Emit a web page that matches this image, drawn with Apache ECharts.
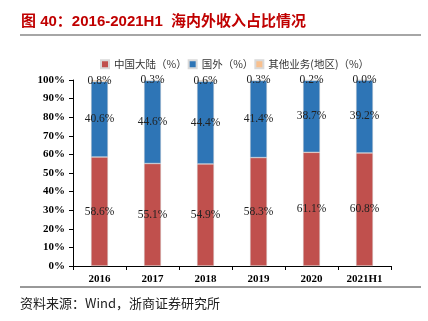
<!DOCTYPE html>
<html><head><meta charset="utf-8">
<script src="https://cdn.jsdelivr.net/npm/echarts@6/dist/echarts.min.js"></script>
<style>html,body{margin:0;padding:0;background:#fff;}#c{width:428px;height:321px;}</style>
</head><body><div id="c"></div>
<script>
const categories = ['2016','2017','2018','2019','2020','2021H1'];
const mainland = [58.6, 55.1, 54.9, 58.3, 61.1, 60.8];
const overseas = [40.6, 44.6, 44.4, 41.4, 38.7, 39.2];
const other = [0.8, 0.3, 0.6, 0.3, 0.2, 0.0];
const seriesNames = ['中国大陆（%）', '国外（%）', '其他业务(地区)（%）'];
const colors = ['#C0504D', '#2E75B6', '#F9C08E'];

const chart = echarts.init(document.getElementById('c'));
const serif = '"Liberation Serif", "Times New Roman", serif';
function mk(name, data, color) {
  return {
    name: name, type: 'bar', stack: 'all', data: data, barWidth: 17,
    itemStyle: { color: color, borderColor: '#d9d9d9', borderWidth: 0.5 },
    label: { show: true, position: 'inside', formatter: p => p.value.toFixed(1) + '%',
      color: '#222', fontFamily: serif, fontSize: 11.5 }
  };
}
chart.setOption({
  animation: false,
  color: colors,
  grid: { left: 73, right: 37, top: 80, bottom: 55 },
  legend: {
    top: 54, left: 95, itemWidth: 8, itemHeight: 8, itemGap: 1,
    icon: 'rect',
    textStyle: { fontFamily: '"Noto Sans CJK SC", serif', fontSize: 10.5, color: '#333' },
    data: seriesNames
  },
  xAxis: {
    type: 'category', data: categories,
    axisLine: { lineStyle: { color: '#000', width: 1 } },
    axisTick: { show: true, alignWithLabel: false, length: 4, lineStyle: { color: '#000' } },
    axisLabel: { fontFamily: serif, fontWeight: 'bold', fontSize: 11, color: '#000', margin: 8 }
  },
  yAxis: {
    type: 'value', min: 0, max: 100, interval: 10,
    splitLine: { show: false },
    axisLine: { show: true, lineStyle: { color: '#000' } },
    axisTick: { show: true, length: 4, lineStyle: { color: '#000' } },
    axisLabel: { formatter: '{value}%', fontFamily: serif, fontWeight: 'bold', fontSize: 11, color: '#000', margin: 8 }
  },
  series: [
    mk(seriesNames[0], mainland, colors[0]),
    mk(seriesNames[1], overseas, colors[1]),
    mk(seriesNames[2], other, colors[2])
  ],
  graphic: [
    { type: 'text', left: 21, top: 14, style: { text: '图 40：2016-2021H1  海内外收入占比情况',
      fill: '#C00000', font: 'bold 15px "Liberation Sans", "Noto Sans CJK SC", sans-serif' } },
    { type: 'line', shape: { x1: 20, y1: 35, x2: 421, y2: 35 }, style: { stroke: '#888', lineWidth: 1.5 } },
    { type: 'line', shape: { x1: 20, y1: 287, x2: 421, y2: 287 }, style: { stroke: '#333', lineWidth: 1 } },
    { type: 'text', left: 20, top: 297, style: { text: '资料来源：Wind，浙商证券研究所',
      fill: '#222', font: '13px "Noto Sans CJK SC", serif' } }
  ]
});
</script></body></html>
